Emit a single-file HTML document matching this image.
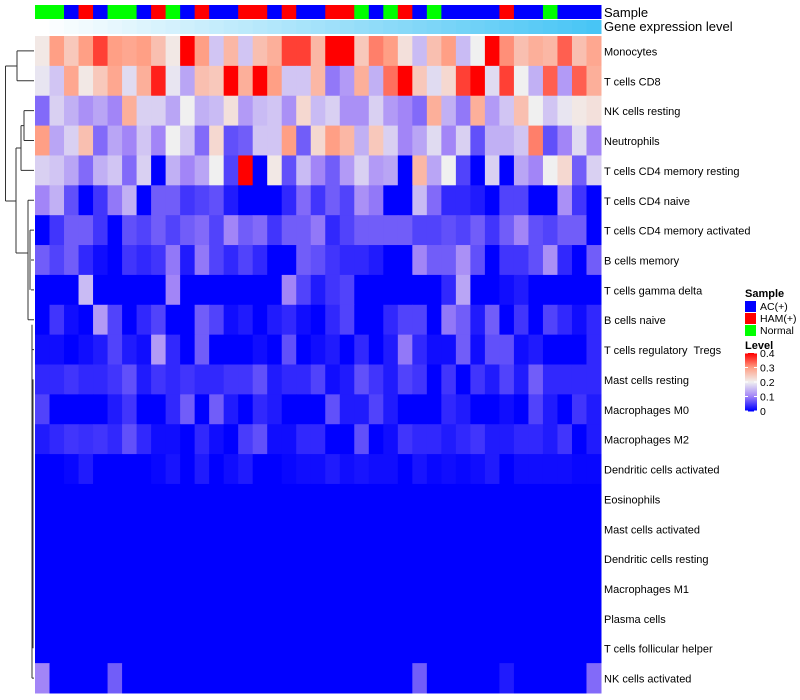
<!DOCTYPE html>
<html><head><meta charset="utf-8"><style>
body{margin:0;background:#fff;}
svg{display:block;font-family:"Liberation Sans",sans-serif;}
text{white-space:pre;}
</style></head><body>
<svg id="chart" width="800" height="700"></svg>
<script>
const rowLabels=["Monocytes","T cells CD8","NK cells resting","Neutrophils","T cells CD4 memory resting","T cells CD4 naive","T cells CD4 memory activated","B cells memory","T cells gamma delta","B cells naive","T cells regulatory  Tregs","Mast cells resting","Macrophages M0","Macrophages M2","Dendritic cells activated","Eosinophils","Mast cells activated","Dendritic cells resting","Macrophages M1","Plasma cells","T cells follicular helper","NK cells activated"];
const sampleGroups="G G B R B G G B R G B R B B R R B R B B R R G B G R B G B B B B R B B G B B B".split(" ");
const groupNames={B:"AC(+)",R:"HAM(+)",G:"Normal"};
const groupColors={B:"#0000ff",R:"#ff0000",G:"#00ff00"};
const levelTicks=[0,0.1,0.2,0.3,0.4];
const Z=Array(39).fill(0);
const r0=[0.21,0.3,0.25,0.3,0.36,0.3,0.29,0.3,0.26,0.21,0.4,0.3,0.16,0.27,0.16,0.26,0.28,0.36,0.36,0.27,0.4,0.4,0.25,0.32,0.3,0.22,0.15,0.26,0.3,0.15,0.2,0.4,0.31,0.26,0.28,0.27,0.34,0.26,0.29];
const r1=[0.19,0.16,0.29,0.21,0.25,0.29,0.18,0.28,0.38,0.19,0.13,0.26,0.25,0.4,0.28,0.4,0.3,0.16,0.16,0.27,0.09,0.12,0.28,0.14,0.33,0.4,0.25,0.18,0.23,0.36,0.4,0.18,0.36,0.2,0.14,0.34,0.12,0.34,0.28];
const r2=[0.08,0.17,0.14,0.11,0.13,0.1,0.28,0.17,0.17,0.13,0.2,0.14,0.15,0.22,0.12,0.15,0.16,0.11,0.23,0.15,0.17,0.11,0.11,0.17,0.12,0.1,0.08,0.28,0.14,0.09,0.28,0.12,0.16,0.26,0.2,0.16,0.19,0.21,0.22];
const r3=[0.3,0.13,0.17,0.26,0.08,0.13,0.1,0.16,0.1,0.2,0.16,0.08,0.23,0.06,0.07,0.16,0.16,0.3,0.07,0.23,0.3,0.27,0.14,0.25,0.17,0.1,0.13,0.18,0.1,0.17,0.06,0.14,0.14,0.16,0.32,0.06,0.1,0.18,0.1];
const r4=[0.17,0.16,0.13,0.08,0.14,0.16,0.08,0.17,0,0.14,0.1,0.13,0.2,0.05,0.4,0,0.21,0.06,0.15,0.1,0.07,0.12,0.17,0.12,0.13,0,0.27,0.13,0.2,0.05,0,0.17,0,0.13,0.1,0.2,0.23,0.07,0.17];
const r5=[0.1,0.14,0.06,0,0.04,0.09,0.14,0,0.07,0.07,0.04,0.05,0.06,0.02,0,0,0,0.03,0.08,0.04,0.07,0.05,0.11,0.09,0,0,0.15,0.08,0.03,0.03,0.02,0,0.05,0.05,0,0,0.11,0.04,0];
const r6=[0,0.04,0.07,0.07,0.04,0,0.06,0.05,0.07,0.05,0.07,0.08,0.05,0.1,0.07,0.08,0.04,0.07,0.07,0.09,0.03,0.05,0.07,0.07,0.07,0.07,0.05,0.05,0.06,0.05,0.07,0.04,0.07,0.1,0.06,0.05,0.07,0.07,0];
const r7=[0.07,0.05,0.07,0.03,0.01,0,0.04,0.03,0.04,0.09,0.02,0.09,0.05,0.03,0.05,0.03,0,0,0.07,0.06,0.04,0.03,0.03,0.02,0,0,0.1,0.07,0.07,0.11,0.06,0,0.04,0.04,0.06,0.11,0.03,0,0.07];
const r8=[0,0,0,0.15,0,0,0,0,0,0.1,0,0,0,0,0,0,0,0.1,0.05,0.02,0.04,0.05,0,0,0,0,0,0,0.03,0.13,0,0,0.01,0.02,0,0,0,0,0];
const r9=[0,0.04,0.01,0,0.12,0.05,0,0.03,0.05,0,0,0.07,0.05,0.01,0.02,0,0.02,0.03,0.01,0,0.03,0.05,0,0,0.03,0.05,0.05,0,0.09,0.07,0.02,0.07,0,0.04,0,0.05,0.03,0.01,0.03];
const r10=[0.01,0.01,0,0.01,0.02,0.05,0.02,0.01,0.12,0.03,0,0.07,0,0,0,0.01,0,0.06,0,0.01,0.02,0,0.03,0,0.02,0.09,0.03,0.01,0.01,0.07,0.01,0.06,0.06,0.01,0.02,0,0,0,0.03];
const r11=[0.03,0.03,0.04,0.03,0.03,0.04,0.06,0.02,0.04,0.03,0.04,0.03,0.03,0.04,0.04,0.06,0.02,0.03,0.03,0.05,0.01,0.02,0.06,0.04,0.02,0.05,0.04,0,0.04,0,0.04,0.02,0.05,0.02,0.07,0.03,0.03,0.03,0.03];
const r12=[0.05,0,0,0,0,0.02,0.04,0,0,0.03,0.07,0,0.07,0.02,0,0.03,0.02,0,0,0,0.06,0.02,0.02,0.05,0.02,0,0,0,0.03,0.02,0,0,0.01,0,0.05,0.02,0,0.04,0.02];
const r13=[0.02,0.03,0.04,0.035,0.04,0.03,0.06,0.03,0.01,0.01,0,0.03,0.01,0,0.045,0.06,0.01,0.01,0.03,0.03,0,0,0.06,0,0.01,0.04,0.03,0.03,0.02,0.03,0.04,0.02,0.02,0.03,0.03,0.02,0.04,0,0.02];
const r14=[0,0,0.005,0.02,0,0,0,0,0.005,0.015,0,0.02,0,0.01,0.02,0,0,0.005,0.01,0.01,0.02,0.01,0.015,0.01,0.01,0,0.015,0.005,0.01,0.005,0.01,0.02,0,0.01,0.01,0.01,0.01,0.005,0.005];
const r21=[0.1,0,0,0,0,0.07,0,0,0,0,0,0,0,0,0,0,0,0,0,0,0,0,0,0,0,0,0.07,0,0,0,0,0,0.02,0,0,0,0,0,0.08];
const values=[r0,r1,r2,r3,r4,r5,r6,r7,r8,r9,r10,r11,r12,r13,r14,Z,Z,Z,Z,Z,Z,r21];

const NS="http://www.w3.org/2000/svg";
const svg=document.getElementById("chart");
function mk(t,a,p){const e=document.createElementNS(NS,t);for(const k in a)e.setAttribute(k,a[k]);(p||svg).appendChild(e);return e;}
const X0=35,X1=601,Y0=36,Y1=693;
const nC=sampleGroups.length,nR=rowLabels.length;
const cw=(X1-X0)/nC,rh=(Y1-Y0)/nR;
const xCol=i=>X0+i*cw, yRow=j=>Y0+j*rh;
const stops=[[0,[0,0,255]],[0.1,[162,133,247]],[0.2,[240,240,240]],[0.3,[255,159,133]],[0.4,[255,0,0]]];
function color(v){v=Math.max(0,Math.min(0.4,v));for(let i=0;i<stops.length-1;i++){const a=stops[i],b=stops[i+1];if(v<=b[0]){const t=(v-a[0])/(b[0]-a[0]);const c=a[1].map((x,k)=>Math.round(x+(b[1][k]-x)*t));return `rgb(${c})`;}}return "rgb(255,0,0)";}

const gA=mk("g",{});


sampleGroups.forEach((g,i)=>{const r=mk("rect",{x:xCol(i),y:5,width:cw+0.5,height:14,fill:groupColors[g]},gA);

});
const gE=mk("g",{});


for(let i=0;i<nC;i++){const t=i/(nC-1);const c=[255+(72-255)*t,255+(197-255)*t,255+(245-255)*t].map(Math.round);
const r=mk("rect",{x:xCol(i),y:20,width:cw+0.5,height:14,fill:`rgb(${c})`},gE);

}
let t=mk("text",{x:604,y:17,"font-size":13,fill:"#000"});t.textContent="Sample";


t=mk("text",{x:604,y:31,"font-size":13,fill:"#000"});t.textContent="Gene expression level";



const gH=mk("g",{});


values.forEach((row,j)=>{row.forEach((v,i)=>{const r=mk("rect",{x:xCol(i),y:yRow(j),width:cw+0.5,height:rh+0.5,fill:color(v)},gH);

});
const l=mk("text",{x:604,y:yRow(j)+rh/2+4.5,"font-size":11,fill:"#000"});l.textContent=rowLabels[j];

});

const yc=j=>yRow(j)+rh/2;
const m23=(yc(2)+yc(3))/2;
const dp=`M17,${yc(0)}H34M17,${yc(1)}H34M17,${yc(0)}V${yc(1)}
M24,${yc(2)}H34M24,${yc(3)}H34M24,${yc(2)}V${yc(3)}M21,${m23}H24M21,${yc(4)}H34M21,${m23}V${yc(4)}
M16,148H21M16,148V253M16,253H28
M28,${yc(5)}H34M28,${yc(5)}V${yc(9)}M30,${yc(6)}H34M30,${yc(6)}V${yc(8)}M31,${yc(7)}H34M31,${yc(8)}H34M28,${yc(9)}H34
M32,${yc(10)}H34M32,${yc(9)+5}V${yc(21)}M32,${yc(21)}H34M33,${yc(11)}V${yc(20)}
M5.5,66V201M5.5,66H17M5.5,201H16`;
const d=mk("path",{d:dp,fill:"none",stroke:"#333","stroke-width":1});



const gL=mk("g",{});


t=mk("text",{x:745,y:297,"font-size":11,"font-weight":"bold"},gL);t.textContent="Sample";


["B","R","G"].forEach((g,k)=>{const r=mk("rect",{x:745,y:301+k*12,width:11,height:11,fill:groupColors[g]},gL);


const tx=mk("text",{x:760,y:310+k*12,"font-size":10.5},gL);tx.textContent=groupNames[g];

});
t=mk("text",{x:745,y:349,"font-size":11,"font-weight":"bold"},gL);t.textContent="Level";


const cbT=353,cbB=411;
for(let k=0;k<58;k++){const v=0.4*(1-k/57);const r=mk("rect",{x:745,y:cbT+k,width:12,height:1.5,fill:color(v)},gL);

}
levelTicks.forEach(v=>{const y=cbB-(v/0.4)*(cbB-cbT);
mk("line",{x1:745,x2:748,y1:y,y2:y,stroke:"#fff","stroke-width":1},gL);
mk("line",{x1:754,x2:757,y1:y,y2:y,stroke:"#fff","stroke-width":1},gL);
const tx=mk("text",{x:760,y:y+4,"font-size":10.5},gL);tx.textContent=String(v);

});
</script>
</body></html>
